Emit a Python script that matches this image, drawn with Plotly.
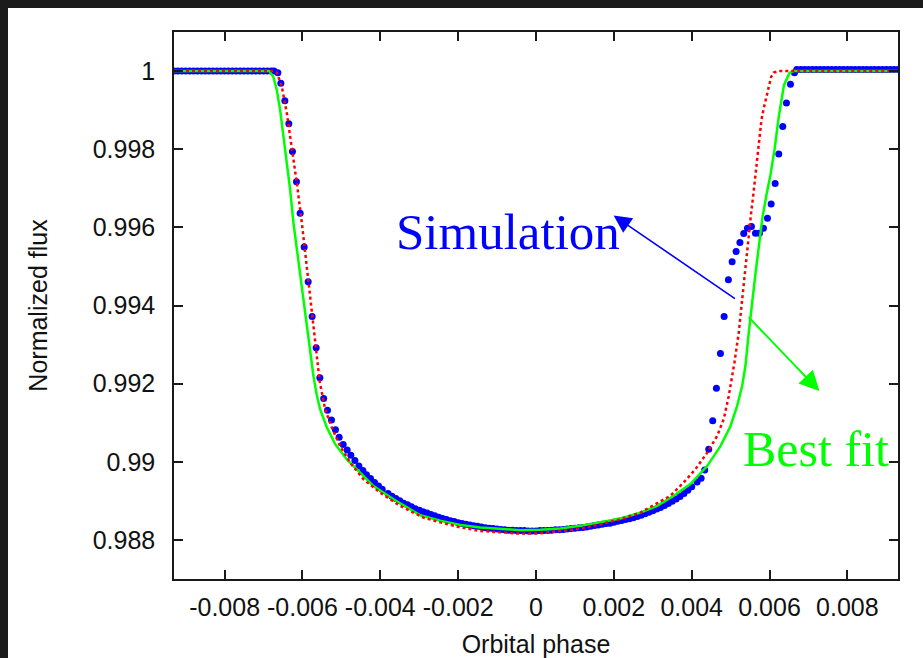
import plotly.graph_objects as go

# ---------------- data ----------------
sim_phase = [
    -0.0093, -0.0092, -0.0091, -0.0090, -0.0089, -0.0088, -0.0087, -0.0086, -0.0085, -0.0084,
    -0.0083, -0.0082, -0.0081, -0.0080, -0.0079, -0.0078, -0.0077, -0.0076, -0.0075, -0.0074,
    -0.0073, -0.0072, -0.0071, -0.0070, -0.0069, -0.0068, -0.00673,
    -0.006632, -0.006555, -0.006452, -0.006350, -0.006257, -0.006154, -0.006059, -0.005956,
    -0.005853, -0.005751, -0.005648, -0.005553, -0.005455, -0.005357, -0.005254, -0.005152,
    -0.005057, -0.004954, -0.004851, -0.004756, -0.004653, -0.004550, -0.004447, -0.004355,
    -0.004252, -0.004149, -0.004046, -0.003951,
    -0.0038, -0.0037, -0.0036, -0.0035, -0.0034, -0.0033, -0.0032, -0.0031, -0.0030, -0.0029,
    -0.0028, -0.0027, -0.0026, -0.0025, -0.0024, -0.0023, -0.0022, -0.0021, -0.0020, -0.0019,
    -0.0018, -0.0017, -0.0016, -0.0015, -0.0014, -0.0013, -0.0012, -0.0011, -0.0010, -0.0009,
    -0.0008, -0.0007, -0.0006, -0.0005, -0.0004, -0.0003, -0.0002, -0.0001, 0.0, 0.0001,
    0.0002, 0.0003, 0.0004, 0.0005, 0.0006, 0.0007, 0.0008, 0.0009, 0.0010, 0.0011,
    0.0012, 0.0013, 0.0014, 0.0015, 0.0016, 0.0017, 0.0018, 0.0019, 0.0020, 0.0021,
    0.0022, 0.0023, 0.0024, 0.0025, 0.0026, 0.0027, 0.0028, 0.0029, 0.0030, 0.0031,
    0.0032, 0.0033, 0.0034, 0.0035, 0.0036, 0.0037, 0.0038, 0.0039, 0.0040,
    0.004139, 0.004242, 0.004334, 0.004437, 0.004540, 0.004635, 0.004738, 0.004833, 0.004943,
    0.005039, 0.005141, 0.005239, 0.005337, 0.005432, 0.005535, 0.005638, 0.005740, 0.005843,
    0.005946, 0.006041, 0.006144, 0.006237, 0.006339, 0.006434, 0.006537, 0.006640,
    0.0067, 0.0068, 0.0069, 0.0070, 0.0071, 0.0072, 0.0073, 0.0074, 0.0075, 0.0076,
    0.0077, 0.0078, 0.0079, 0.0080, 0.0081, 0.0082, 0.0083, 0.0084, 0.0085, 0.0086,
    0.0087, 0.0088, 0.0089, 0.0090, 0.0091, 0.0092, 0.0093,
]
sim_flux = [
    1.0, 1.0, 1.0, 1.0, 1.0, 1.0, 1.0, 1.0, 1.0, 1.0,
    1.0, 1.0, 1.0, 1.0, 1.0, 1.0, 1.0, 1.0, 1.0, 1.0,
    1.0, 1.0, 1.0, 1.0, 1.0, 1.0, 1.0,
    0.99996, 0.99969, 0.99924, 0.99865, 0.99794, 0.99717, 0.99636, 0.99550,
    0.99461, 0.99372, 0.99292, 0.99215, 0.99162, 0.99132, 0.99107, 0.99082,
    0.99063, 0.99044, 0.99030, 0.99017, 0.99003, 0.98989, 0.98978, 0.98967,
    0.98957, 0.98947, 0.98938, 0.98930,
    0.98919, 0.98912, 0.98906, 0.98900, 0.98894, 0.98890, 0.98885, 0.98880, 0.98876, 0.98872,
    0.98869, 0.98865, 0.98862, 0.98858, 0.98855, 0.98852, 0.98849, 0.98847, 0.98844, 0.98842,
    0.98840, 0.98838, 0.98836, 0.98835, 0.98833, 0.98831, 0.98830, 0.98829, 0.98828, 0.98827,
    0.98826, 0.98825, 0.98825, 0.98824, 0.98824, 0.98824, 0.98823, 0.98823, 0.98823, 0.98824,
    0.98824, 0.98824, 0.98825, 0.98826, 0.98826, 0.98827, 0.98828, 0.98829, 0.98830, 0.98831,
    0.98832, 0.98833, 0.98835, 0.98837, 0.98838, 0.98840, 0.98842, 0.98843, 0.98845, 0.98848,
    0.98850, 0.98852, 0.98854, 0.98857, 0.98860, 0.98863, 0.98867, 0.98871, 0.98875, 0.98879,
    0.98883, 0.98888, 0.98893, 0.98899, 0.98905, 0.98911, 0.98919, 0.98927, 0.98936,
    0.98948, 0.98958, 0.98979, 0.99032, 0.99105, 0.99188, 0.99277, 0.99372, 0.99466,
    0.99512, 0.99538, 0.99561, 0.99584, 0.99598, 0.99602, 0.99585, 0.99585, 0.99598,
    0.99623, 0.99660, 0.99712, 0.99788, 0.99858, 0.99918, 0.99966, 0.99996,
    1.00004, 1.00004, 1.00004, 1.00004, 1.00004, 1.00004, 1.00004, 1.00004, 1.00004, 1.00004,
    1.00004, 1.00004, 1.00004, 1.00004, 1.00004, 1.00004, 1.00004, 1.00004, 1.00004, 1.00004,
    1.00004, 1.00004, 1.00004, 1.00004, 1.00004, 1.00004, 1.00004,
]

model_phase = [
    -0.0093, -0.006753, -0.006658, -0.006530, -0.006401, -0.006272, -0.006144, -0.006015,
    -0.005887, -0.005758, -0.005648, -0.005558, -0.005416, -0.005244, -0.005031, -0.004774,
    -0.004432, -0.004003, -0.003488, -0.002889, -0.002460, -0.001946, -0.001432, -0.000918,
    -0.000404, 0.000111, 0.000625, 0.001139, 0.001653, 0.002167, 0.002681, 0.003067,
    0.003452, 0.003794, 0.004095, 0.004396, 0.004653, 0.004823, 0.004951, 0.005098,
    0.005208, 0.005296, 0.005380, 0.005465, 0.005527, 0.005578, 0.005612, 0.005656,
    0.005697, 0.005748, 0.005792, 0.005851, 0.005913, 0.005979, 0.006041, 0.006108,
    0.006229, 0.0093,
]
model_flux = [
    1.0, 1.0, 0.99996, 0.99960, 0.99892, 0.99807, 0.99713, 0.99611,
    0.99500, 0.99390, 0.99287, 0.99206, 0.99134, 0.99087, 0.99040, 0.98998,
    0.98955, 0.98921, 0.98887, 0.98857, 0.98845, 0.98832, 0.98823, 0.98819,
    0.98816, 0.98817, 0.98823, 0.98829, 0.98840, 0.98853, 0.98870, 0.98891,
    0.98913, 0.98947, 0.98981, 0.99023, 0.99066, 0.99109, 0.99168, 0.99254,
    0.99330, 0.99415, 0.99500, 0.99585, 0.99637, 0.99679, 0.99713, 0.99756,
    0.99790, 0.99832, 0.99875, 0.99905, 0.99934, 0.99960, 0.99985, 0.99996,
    1.0, 1.0,
]

fit_phase = [
    -0.0093, -0.006848, -0.006746, -0.006658, -0.006573, -0.006488, -0.006401, -0.006316,
    -0.006231, -0.006144, -0.006059, -0.005974, -0.005887, -0.005802, -0.005717, -0.005635,
    -0.005545, -0.005373, -0.005159, -0.004859, -0.004517, -0.004175, -0.003661, -0.002974,
    -0.002460, -0.001946, -0.001432, -0.000918, -0.000404, 0.000111, 0.000625, 0.001139,
    0.001653, 0.002167, 0.002681, 0.003111, 0.003537, 0.003967, 0.004396, 0.004738,
    0.004995, 0.005167, 0.005296, 0.005380, 0.005465, 0.005553, 0.005645, 0.005715,
    0.005817, 0.005920, 0.006023, 0.006126, 0.006237, 0.006370, 0.006512, 0.006614, 0.0093,
]
fit_flux = [
    1.0, 1.0, 0.99985, 0.99951, 0.99900, 0.99832, 0.99764, 0.99696,
    0.99611, 0.99543, 0.99475, 0.99407, 0.99338, 0.99279, 0.99219, 0.99172,
    0.99134, 0.99088, 0.99045, 0.99006, 0.98971, 0.98938, 0.98904, 0.98863,
    0.98849, 0.98838, 0.98832, 0.98828, 0.98825, 0.98826, 0.98829, 0.98836,
    0.98845, 0.98855, 0.98870, 0.98887, 0.98913, 0.98943, 0.98989, 0.99040,
    0.99091, 0.99143, 0.99194, 0.99245, 0.99330, 0.99415, 0.99487, 0.99543,
    0.99625, 0.99683, 0.99734, 0.99798, 0.99883, 0.99964, 0.99995, 1.0, 1.0,
]

x_tickvals = [-0.008, -0.006, -0.004, -0.002, 0.0, 0.002, 0.004, 0.006, 0.008]
x_ticktext = ["-0.008", "-0.006", "-0.004", "-0.002", "0", "0.002", "0.004", "0.006", "0.008"]
y_tickvals = [0.988, 0.990, 0.992, 0.994, 0.996, 0.998, 1.000]
y_ticktext = ["0.988", "0.99", "0.992", "0.994", "0.996", "0.998", "1"]

x_range = [-0.0093, 0.0093]
y_range = [0.987, 1.001]

# ---------------- figure ----------------
BLUE = "#0000FF"
GREEN = "#00FF00"
RED = "#FF0000"
FONT = "Liberation Sans"

fig = go.Figure()
fig.add_trace(go.Scatter(
    x=sim_phase, y=sim_flux, mode="markers", name="Simulation",
    marker=dict(color=BLUE, size=7, line=dict(width=0)),
))
fig.add_trace(go.Scatter(
    x=fit_phase, y=fit_flux, mode="lines", name="Best fit",
    line=dict(color=GREEN, width=2.5),
))
fig.add_trace(go.Scatter(
    x=model_phase, y=model_flux, mode="lines", name="Model",
    line=dict(color=RED, width=2.5, dash="dot"),
))

axis_common = dict(
    showgrid=False, zeroline=False, showline=True, linecolor="#1a1a1a", linewidth=1.5,
    mirror="ticks", ticks="inside", ticklen=9, tickwidth=1.5, tickcolor="#1a1a1a",
    tickfont=dict(family=FONT, size=25, color="#111111"), automargin=False,
)
fig.update_xaxes(
    range=x_range, tickmode="array", tickvals=x_tickvals, ticktext=x_ticktext,
    title=dict(text="Orbital phase", font=dict(family=FONT, size=25, color="#111111"), standoff=17),
    ticklabelstandoff=5, **axis_common,
)
fig.update_yaxes(
    range=y_range, tickmode="array", tickvals=y_tickvals, ticktext=y_ticktext,
    title=dict(text="Normalized flux", font=dict(family=FONT, size=25, color="#111111"), standoff=38),
    ticklabelstandoff=12, **axis_common,
)

# Annotations (text + arrows)
fig.add_annotation(x=-0.000725, y=0.995888, xref="x", yref="y", text="Simulation",
                   showarrow=False, xanchor="center", yanchor="middle",
                   font=dict(family="Liberation Serif", size=51, color=BLUE))
fig.add_annotation(x=0.007193, y=0.990319, xref="x", yref="y", text="Best fit",
                   showarrow=False, xanchor="center", yanchor="middle",
                   font=dict(family="Liberation Serif", size=50, color=GREEN))
fig.add_annotation(x=0.001995, y=0.996304, xref="x", yref="y",
                   ax=0.005149, ay=0.994151, axref="x", ayref="y", text="",
                   showarrow=True, arrowhead=2, arrowsize=2.2, arrowwidth=1.6, arrowcolor=BLUE)
fig.add_annotation(x=0.007283, y=0.991809, xref="x", yref="y",
                   ax=0.005424, ay=0.993742, axref="x", ayref="y", text="",
                   showarrow=True, arrowhead=2, arrowsize=2.0, arrowwidth=2.0, arrowcolor=GREEN)

# dark frame of the slide (top and left bands)
L, R, T, B = 174, 25, 32, 79
W, H = 923, 658
pw, ph = W - L - R, H - T - B
def px_to_paper_x(p):
    return (p - L) / pw
def px_to_paper_y(p):
    return (H - B - p) / ph
DARK = "#1b1b1b"
fig.add_shape(type="rect", xref="paper", yref="paper", layer="below",
              x0=px_to_paper_x(0), x1=px_to_paper_x(W), y0=px_to_paper_y(8), y1=px_to_paper_y(0),
              fillcolor=DARK, line=dict(width=0))
fig.add_shape(type="rect", xref="paper", yref="paper", layer="below",
              x0=px_to_paper_x(0), x1=px_to_paper_x(8), y0=px_to_paper_y(H), y1=px_to_paper_y(0),
              fillcolor=DARK, line=dict(width=0))

fig.update_layout(
    width=W, height=H, autosize=False, margin=dict(l=L, r=R, t=T, b=B),
    paper_bgcolor="white", plot_bgcolor="white", showlegend=False,
    font=dict(family=FONT),
)

fig.write_html(
    "out.html",
    config={"responsive": False, "displayModeBar": False},
    post_script=(
        "document.body.style.margin='0';"
        "document.body.style.overflow='hidden';"
        "document.documentElement.style.overflow='hidden';"
    ),
)
